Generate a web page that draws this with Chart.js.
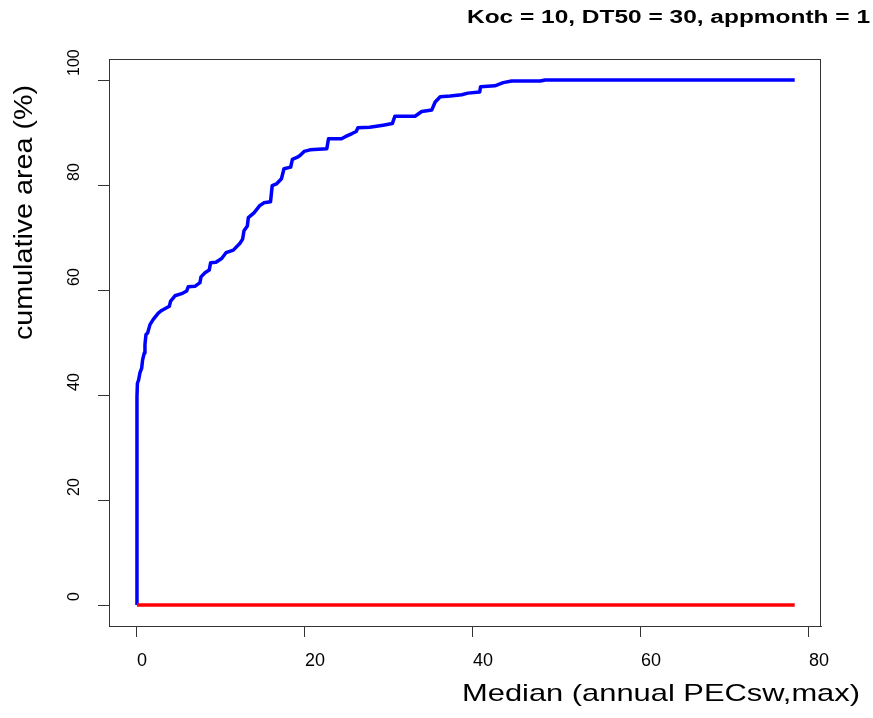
<!DOCTYPE html>
<html>
<head>
<meta charset="utf-8">
<script src="https://cdn.jsdelivr.net/npm/chart.js@4/dist/chart.umd.min.js"></script>
<style>
    body { margin: 0; background: #ffffff; }
    #wrap { width: 873px; height: 718px; }
</style>
</head>
<body>
<div id="wrap"><canvas id="chart" width="873" height="718"></canvas></div>
<script>
// median of annual PECsw,max (x) against cumulative area in % (y)
const medianX = [ 0, 0, 0.05, 0.2, 0.35, 0.56, 0.67, 0.87, 0.95, 1.07, 1.27, 1.55, 1.94, 2.54, 2.94, 3.85, 4.01, 4.52, 5.32,
    5.91, 6.1, 6.9, 7.5, 7.62, 8.1, 8.6, 8.77, 9.4, 10.08, 10.6, 11.47, 12.26, 12.58, 12.74, 13.14, 13.26, 13.93, 14.64, 15.1,
    15.9, 16.1, 16.6, 17.2, 17.5, 18.3, 18.5, 19.1, 19.4, 19.9, 20.6, 22.6, 22.8, 24.35, 24.8, 25.6, 26.1, 26.3, 27.7, 29.3,
    30.4, 30.7, 33.1, 33.9, 35.1, 35.5, 36.1, 37.3, 38.65, 39.4, 40.8, 40.9, 42.6, 43.6, 44.6, 48.0, 48.6, 78.3 ];
const cumArea = [ 0, 39.7, 42.2, 42.9, 44.2, 45.1, 46.7, 48.0, 49.6, 51.5, 51.8, 53.4, 54.4, 55.6, 56.1, 56.9, 57.9, 58.9, 59.3,
    59.8, 60.6, 60.7, 61.4, 62.5, 63.3, 63.8, 65.2, 65.3, 66.0, 67.1, 67.6, 68.9, 69.7, 71.3, 72.2, 73.8, 74.7, 76.1, 76.6,
    76.8, 79.9, 80.2, 81.2, 83.1, 83.4, 84.9, 85.3, 85.6, 86.4, 86.7, 86.9, 88.8, 88.8, 89.2, 89.8, 90.2, 90.9, 91.0, 91.4,
    91.7, 93.1, 93.1, 94.0, 94.3, 95.8, 96.8, 96.95, 97.2, 97.5, 97.7, 98.7, 98.9, 99.5, 99.8, 99.8, 100, 100 ];
const baseX = [ 0, 78.3 ];
const baseY = [ 0, 0 ];

const xTicks = [ 0, 20, 40, 60, 80 ];
const yTicks = [ 0, 20, 40, 60, 80, 100 ];

const titleText = 'Koc = 10, DT50 = 30, appmonth = 1';
const xTitle = 'Median (annual PECsw,max)';
const yTitle = 'cumulative area (%)';

const FONT = '"Liberation Sans", Arial, sans-serif';

function toPoints( xs, ys )
{
    return xs.map( ( x, i ) => ( { x: x, y: ys[ i ] } ) );
}

// text in the picture is stretched, so fit it to the measured width
function stretchText( ctx, text, x, y, width, font, angle )
{
    ctx.save();
    ctx.font = font;
    const w = ctx.measureText( text ).width;
    ctx.translate( x, y );
    if ( angle ) ctx.rotate( angle );
    ctx.scale( width / w, 1 );
    ctx.fillStyle = '#000000';
    ctx.textAlign = 'left';
    ctx.textBaseline = 'middle';
    ctx.fillText( text, 0, 0 );
    ctx.restore();
}

const extras = {
    id: 'extras',
    afterDraw( chart )
    {
        const ctx = chart.ctx;
        const a = chart.chartArea;
        ctx.save();
        ctx.strokeStyle = '#333333';
        ctx.lineWidth = 1;
        ctx.strokeRect( a.left + 0.5, a.top + 0.5, a.right - a.left - 1, a.bottom - a.top );

        // rotated y tick labels
        const ys = chart.scales.y;
        ctx.font = '16px ' + FONT;
        ctx.fillStyle = '#000000';
        ctx.textAlign = 'left';
        ctx.textBaseline = 'middle';
        ys.ticks.forEach( t =>
        {
            const py = ys.getPixelForValue( t.value );
            ctx.save();
            ctx.translate( 75, py - 4 );
            ctx.rotate( -Math.PI / 2 );
            ctx.fillText( String( t.value ), 0, 0 );
            ctx.restore();
        } );
        ctx.restore();

        stretchText( ctx, titleText, 467, 18, 403, 'bold 18px ' + FONT );
        stretchText( ctx, xTitle, 462, 694, 398, '24px ' + FONT );
        stretchText( ctx, yTitle, 25, 340, 255, '26px ' + FONT, -Math.PI / 2 );
    }
};

new Chart( document.getElementById( 'chart' ), {
    type: 'line',
    data: {
        datasets: [ {
            label: 'cumulative',
            data: toPoints( medianX, cumArea ),
            borderColor: '#0000ff',
            borderWidth: 3.5,
            pointRadius: 0,
            tension: 0,
            borderJoinStyle: 'round',
            order: 1
        }, {
            label: 'zero',
            data: toPoints( baseX, baseY ),
            borderColor: '#ff0000',
            borderWidth: 3.5,
            pointRadius: 0,
            tension: 0,
            order: 0
        } ]
    },
    options: {
        responsive: false,
        animation: false,
        layout: { padding: { left: 0, top: 59, right: 52, bottom: 0 } },
        plugins: {
            legend: { display: false },
            tooltip: { enabled: false }
        },
        scales: {
            x: {
                type: 'linear',
                min: -3.33,
                max: 81.43,
                afterBuildTicks: s => { s.ticks = xTicks.map( v => ( { value: v } ) ); },
                afterFit: s => { s.height = 92; },
                grid: { drawOnChartArea: false, drawTicks: true, tickLength: 11, color: '#333333' },
                border: { display: true, color: '#333333' },
                ticks: {
                    align: 'start',
                    padding: 13,
                    color: '#000000',
                    maxRotation: 0,
                    font: { family: FONT, size: 18 }
                }
            },
            y: {
                type: 'linear',
                min: -4,
                max: 104,
                afterBuildTicks: s => { s.ticks = yTicks.map( v => ( { value: v } ) ); },
                afterFit: s => { s.width = 109; },
                grid: { drawOnChartArea: false, drawTicks: true, tickLength: 11, color: '#333333' },
                border: { display: true, color: '#333333' },
                ticks: { display: false }
            }
        }
    },
    plugins: [ extras ]
} );
</script>
</body>
</html>
